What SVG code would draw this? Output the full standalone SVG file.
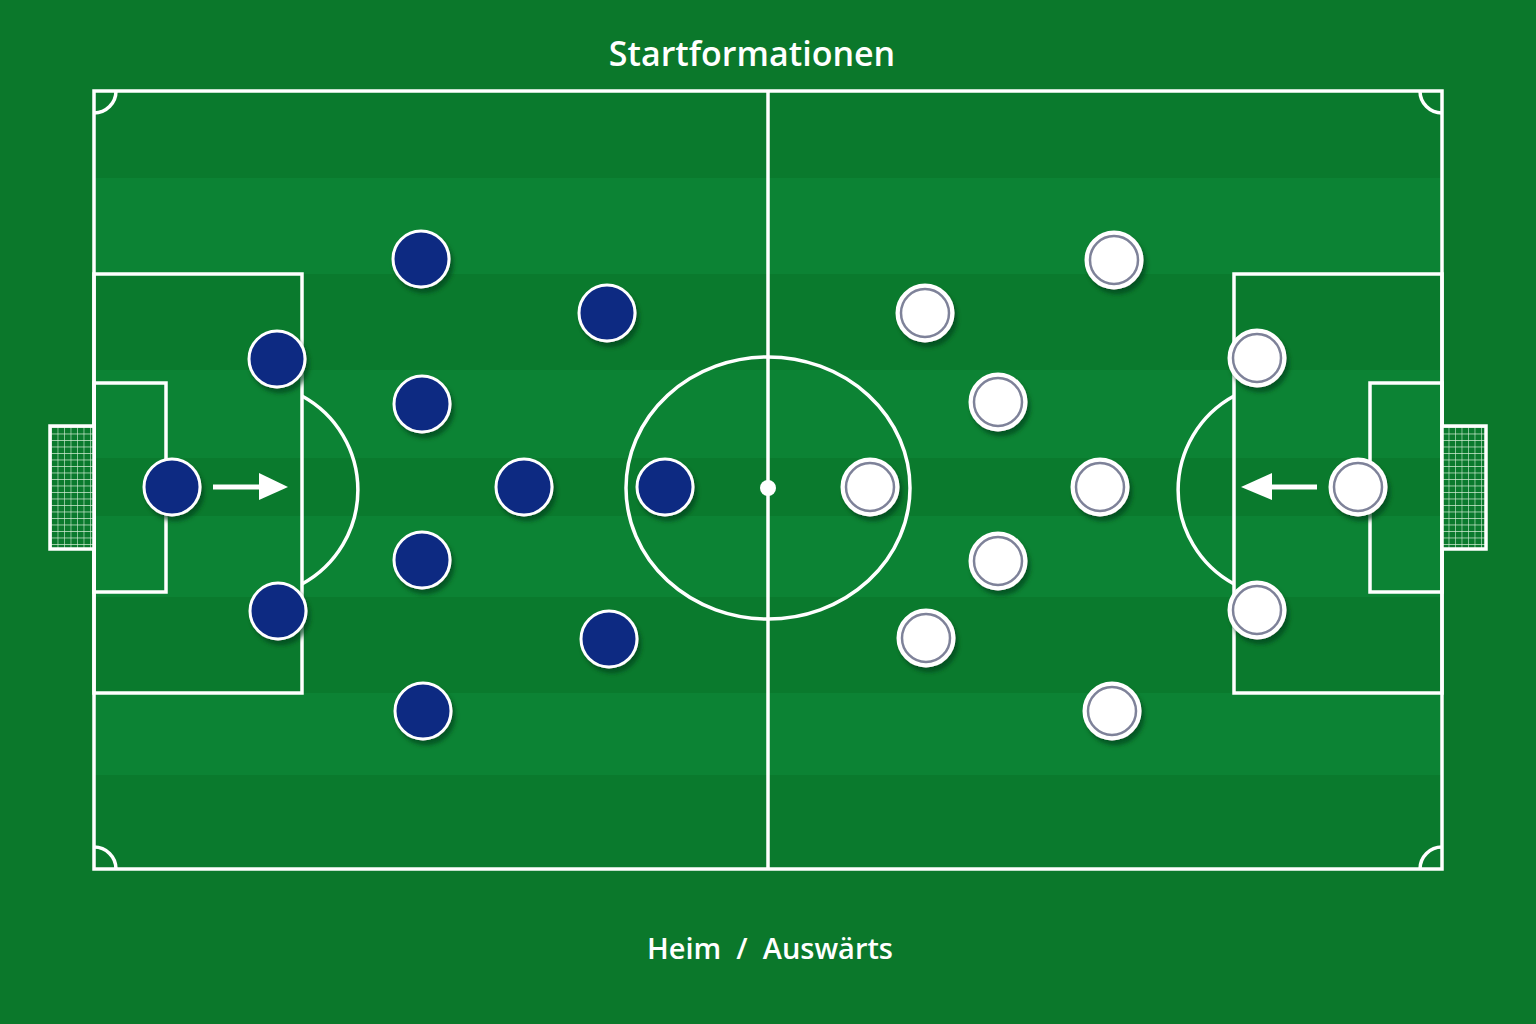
<svg xmlns="http://www.w3.org/2000/svg" width="1536" height="1024" viewBox="0 0 1536 1024">
  <defs>
    <style>
      .line { fill: none; stroke: #ffffff; stroke-width: 3.5; }
      .title { font-family: "Open Sans", "Liberation Sans", sans-serif; font-weight: 600; fill: #ffffff; text-anchor: middle; }
      .home { fill: #0b2a82; stroke: #ffffff; stroke-width: 3; }
      .away { fill: #ffffff; stroke: #ffffff; stroke-width: 3; }
      .awayring { fill: #ffffff; stroke: #7e8299; stroke-width: 2.5; }
      .net { stroke: #d6f0d8; stroke-width: 1.2; }
      .dark { fill: #0a7a2d; }
      .light { fill: #0c8334; }
    </style>
    <filter id="shadow" x="-30%" y="-30%" width="170%" height="170%">
      <feDropShadow dx="3" dy="5" stdDeviation="2" flood-color="#04421a" flood-opacity="0.7"/>
    </filter>
    <pattern id="netpat" x="51" y="427" width="6.5" height="6.5" patternUnits="userSpaceOnUse">
      <path d="M0 0 H6.5 M0 0 V6.5" class="net"/>
    </pattern>
  </defs>

  <!-- background -->
  <rect x="0" y="0" width="1536" height="1024" fill="#0b782b"/>

  <!-- pitch stripes -->
  <g id="stripes">
    <rect class="dark" x="94" y="91" width="1348" height="87"/>
    <rect class="light" x="94" y="178" width="1348" height="96"/>
    <rect class="dark" x="94" y="274" width="1348" height="96"/>
    <rect class="light" x="94" y="370" width="1348" height="88"/>
    <rect class="dark" x="94" y="458" width="1348" height="58"/>
    <rect class="light" x="94" y="516" width="1348" height="81"/>
    <rect class="dark" x="94" y="597" width="1348" height="96"/>
    <rect class="light" x="94" y="693" width="1348" height="82"/>
    <rect class="dark" x="94" y="775" width="1348" height="94"/>
  </g>

  <!-- pitch markings -->
  <g id="pitch-lines">
    <rect class="line" x="94" y="91" width="1348" height="778"/>
    <line class="line" x1="768" y1="91" x2="768" y2="869"/>
    <ellipse class="line" cx="768" cy="488" rx="142" ry="131"/>
    <circle cx="768" cy="488" r="8" fill="#ffffff"/>
    <!-- left -->
    <rect class="line" x="94" y="274" width="208" height="419"/>
    <rect class="line" x="94" y="383" width="72" height="209"/>
    <path class="line" d="M302 396 A107 107 0 0 1 302 584"/>
    <!-- right -->
    <rect class="line" x="1234" y="274" width="208" height="419"/>
    <rect class="line" x="1370" y="383" width="72" height="209"/>
    <path class="line" d="M1234 396 A107 107 0 0 0 1234 584"/>
    <!-- corners -->
    <path class="line" d="M94 113 A22 22 0 0 0 116 91"/>
    <path class="line" d="M1420 91 A22 22 0 0 0 1442 113"/>
    <path class="line" d="M94 847 A22 22 0 0 1 116 869"/>
    <path class="line" d="M1420 869 A22 22 0 0 1 1442 847"/>
  </g>

  <!-- goals -->
  <g id="goal-left">
    <rect x="50" y="426" width="44" height="123" fill="#0a7a2d"/>
    <rect x="51" y="427" width="43" height="121" fill="url(#netpat)"/>
    <rect class="line" x="50" y="426" width="44" height="123"/>
  </g>
  <g id="goal-right">
    <rect x="1442" y="426" width="44" height="123" fill="#0a7a2d"/>
    <rect x="1442" y="427" width="43" height="121" fill="url(#netpat)"/>
    <rect class="line" x="1442" y="426" width="44" height="123"/>
  </g>

  <!-- arrows (connectors) -->
  <g id="connectors" fill="#ffffff">
    <rect x="213" y="484.5" width="50" height="5"/>
    <polygon points="259,473 288,487 259,500"/>
    <rect x="1270" y="484.5" width="47" height="5"/>
    <polygon points="1272,473 1241,487 1272,500"/>
  </g>

  <!-- home players -->
  <g id="home" filter="url(#shadow)">
    <g id="home-gk"><circle class="home" cx="172" cy="487" r="28"/></g>
    <g id="home-d1"><circle class="home" cx="277" cy="359" r="28"/></g>
    <g id="home-d2"><circle class="home" cx="278" cy="611" r="28"/></g>
    <g id="home-m1"><circle class="home" cx="421" cy="259" r="28"/></g>
    <g id="home-m2"><circle class="home" cx="422" cy="404" r="28"/></g>
    <g id="home-m3"><circle class="home" cx="422" cy="560" r="28"/></g>
    <g id="home-m4"><circle class="home" cx="423" cy="711" r="28"/></g>
    <g id="home-c1"><circle class="home" cx="524" cy="487" r="28"/></g>
    <g id="home-w1"><circle class="home" cx="607" cy="313" r="28"/></g>
    <g id="home-w2"><circle class="home" cx="609" cy="639" r="28"/></g>
    <g id="home-f1"><circle class="home" cx="665" cy="487" r="28"/></g>
  </g>

  <!-- away players -->
  <g id="away" filter="url(#shadow)">
    <g id="away-gk"><circle class="away" cx="1358" cy="487" r="28"/><circle class="awayring" cx="1358" cy="487" r="24"/></g>
    <g id="away-d1"><circle class="away" cx="1257" cy="358" r="28"/><circle class="awayring" cx="1257" cy="358" r="24"/></g>
    <g id="away-d2"><circle class="away" cx="1257" cy="610" r="28"/><circle class="awayring" cx="1257" cy="610" r="24"/></g>
    <g id="away-m1"><circle class="away" cx="1114" cy="260" r="28"/><circle class="awayring" cx="1114" cy="260" r="24"/></g>
    <g id="away-m2"><circle class="away" cx="998" cy="402" r="28"/><circle class="awayring" cx="998" cy="402" r="24"/></g>
    <g id="away-m3"><circle class="away" cx="1100" cy="487" r="28"/><circle class="awayring" cx="1100" cy="487" r="24"/></g>
    <g id="away-m4"><circle class="away" cx="998" cy="561" r="28"/><circle class="awayring" cx="998" cy="561" r="24"/></g>
    <g id="away-m5"><circle class="away" cx="1112" cy="711" r="28"/><circle class="awayring" cx="1112" cy="711" r="24"/></g>
    <g id="away-w1"><circle class="away" cx="925" cy="313" r="28"/><circle class="awayring" cx="925" cy="313" r="24"/></g>
    <g id="away-w2"><circle class="away" cx="926" cy="638" r="28"/><circle class="awayring" cx="926" cy="638" r="24"/></g>
    <g id="away-f1"><circle class="away" cx="870" cy="487" r="28"/><circle class="awayring" cx="870" cy="487" r="24"/></g>
  </g>

  <!-- texts -->
  <text class="title" x="752" y="66" font-size="34">Startformationen</text>
  <text class="title" x="770" y="959" font-size="29" xml:space="preserve">Heim  /  Auswärts</text>
</svg>
